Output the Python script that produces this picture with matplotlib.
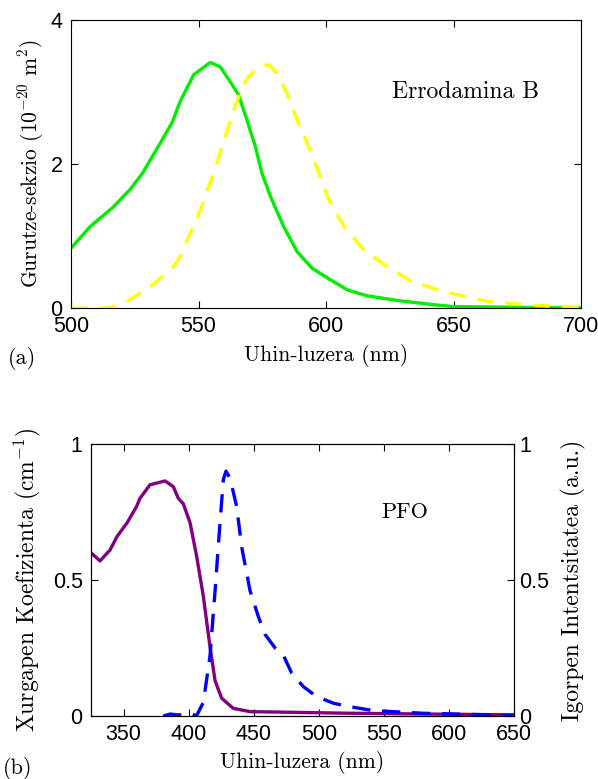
import matplotlib
matplotlib.use("Agg")
import matplotlib.pyplot as plt

plt.rcParams['mathtext.fontset'] = 'cm'
plt.rcParams['axes.unicode_minus'] = False

# ---- (a) Errodamina B : absorption (green) and emission (yellow)
abs_x = [500, 507.5, 516.5, 523, 528, 535, 539.7, 542.8, 548.1, 554.6, 558.5, 562.5,
         565.7, 569.0, 572.3, 574.9, 578.2, 583.4, 588.7, 594.6, 601.8, 608.5, 616,
         629, 643.8, 650, 700]
abs_y = [0.83, 1.13, 1.40, 1.64, 1.87, 2.29, 2.58, 2.87, 3.24, 3.41, 3.35, 3.14,
         2.96, 2.61, 2.24, 1.87, 1.55, 1.13, 0.78, 0.55, 0.39, 0.25, 0.17,
         0.10, 0.04, 0.02, 0.0]

em_x = [500, 515, 522, 532, 540, 542.8, 545.5, 550.7, 555.9, 559.2, 562.5, 565.7,
        569.0, 573.0, 577.5, 580.8, 584.7, 588.7, 593.2, 597.2, 601.1, 607, 614.7,
        624, 634, 648, 663.5, 680, 700]
em_y = [0.0, 0.0, 0.09, 0.32, 0.57, 0.71, 0.94, 1.36, 1.87, 2.24, 2.61, 2.93,
        3.19, 3.33, 3.38, 3.26, 2.98, 2.61, 2.24, 1.87, 1.50, 1.13, 0.81,
        0.57, 0.36, 0.21, 0.09, 0.04, 0.01]

# ---- (b) PFO : absorption (purple, left axis) and emission (blue, right axis)
pfo_abs_x = [325, 331.9, 339.6, 345, 352.7, 360, 362.6, 370.3, 381.9, 388.2, 392.1,
             395.9, 401.1, 406.2, 411.3, 416.4, 420.3, 425.4, 434.3, 447.2, 524, 650]
pfo_abs_y = [0.60, 0.57, 0.61, 0.66, 0.71, 0.77, 0.80, 0.85, 0.864, 0.843, 0.80,
             0.78, 0.71, 0.586, 0.44, 0.255, 0.13, 0.065, 0.028, 0.016, 0.01, 0.004]

pfo_em_x = [380.5, 385.7, 392, 403, 406, 411.3, 416.4, 420.3, 424.1, 426.7, 428.7,
            431.8, 436.9, 440.8, 447.2, 453.6, 458.7, 466.4, 472.7, 479.2, 488.1,
            498.4, 511.2, 524, 541.7, 580, 650]
pfo_em_y = [0.0, 0.007, 0.004, 0.007, 0.0, 0.05, 0.22, 0.46, 0.71, 0.87, 0.90,
            0.874, 0.77, 0.62, 0.46, 0.365, 0.30, 0.25, 0.224, 0.157, 0.108,
            0.071, 0.047, 0.034, 0.02, 0.01, 0.002]

tickfont = 'Liberation Sans'
labfont = 'cmr10'

fig = plt.figure(figsize=(5.98, 7.79), dpi=100)

### top panel
ax1 = fig.add_axes([0.1187, 0.6046, 0.853, 0.3697])
ax1.plot(abs_x, abs_y, color='#00ee00', lw=2.4)
ax1.plot(em_x, em_y, color='#ffff00', lw=2.4, dashes=(5, 3.5))
ax1.set_xlim(500, 700)
ax1.set_ylim(0, 4)
ax1.set_xticks([500, 550, 600, 650, 700])
ax1.set_yticks([0, 2, 4])
ax1.tick_params(direction='in', top=True, right=True, length=5, labelsize=15.5)
ax1.tick_params(axis='x', pad=6)
ax1.tick_params(axis='y', pad=6)
for lab in ax1.get_xticklabels() + ax1.get_yticklabels():
    lab.set_fontfamily(tickfont)
ax1.set_xlabel('Uhin-luzera (nm)', fontfamily=labfont, fontsize=15.5, labelpad=5)
ax1.set_ylabel(r'Gurutze-sekzio (10$^{-20}$ m$^2$)', fontfamily=labfont, fontsize=15.5, labelpad=3)
ax1.text(654.8, 3.0, 'Errodamina B', fontfamily=labfont, fontsize=17, ha='center', va='center')
fig.text(0.013, 0.54, '(a)', fontfamily=labfont, fontsize=16, ha='left', va='center')

### bottom panel
ax2 = fig.add_axes([0.1522, 0.0809, 0.7074, 0.3492])
ax2.plot(pfo_abs_x, pfo_abs_y, color='#800080', lw=2.4)
ax2.set_xlim(325, 650)
ax2.set_ylim(0, 1)
ax2.set_xticks([350, 400, 450, 500, 550, 600, 650])
ax2.set_yticks([0, 0.5, 1])
ax2.set_yticklabels(['0', '0.5', '1'])
ax2.tick_params(direction='in', top=True, length=5, labelsize=15.5)
ax2.tick_params(axis='x', pad=6)
ax2.tick_params(axis='y', right=False, pad=6)

ax3 = ax2.twinx()
ax3.plot(pfo_em_x, pfo_em_y, color='#0000ff', lw=2.4, dashes=(5.5, 3.5))
ax3.set_ylim(0, 1)
ax3.set_yticks([0, 0.5, 1])
ax3.set_yticklabels(['0', '0.5', '1'])
ax3.tick_params(direction='in', length=5, labelsize=15.5, pad=4)

for a in (ax2, ax3):
    for lab in a.get_xticklabels() + a.get_yticklabels():
        lab.set_fontfamily(tickfont)
ax2.set_xlabel('Uhin-luzera (nm)', fontfamily=labfont, fontsize=15.5, labelpad=4)
ax2.set_ylabel(r'Xurgapen Koefizienta (cm$^{-1}$)', fontfamily=labfont, fontsize=17, labelpad=7)
ax3.set_ylabel('Igorpen Intentsitatea (a.u.)', fontfamily=labfont, fontsize=17, labelpad=8)
ax2.text(566, 0.75, 'PFO', fontfamily=labfont, fontsize=16, ha='center', va='center')
fig.text(0.005, 0.014, '(b)', fontfamily=labfont, fontsize=16, ha='left', va='center')

fig.savefig('out.png', dpi=100)
